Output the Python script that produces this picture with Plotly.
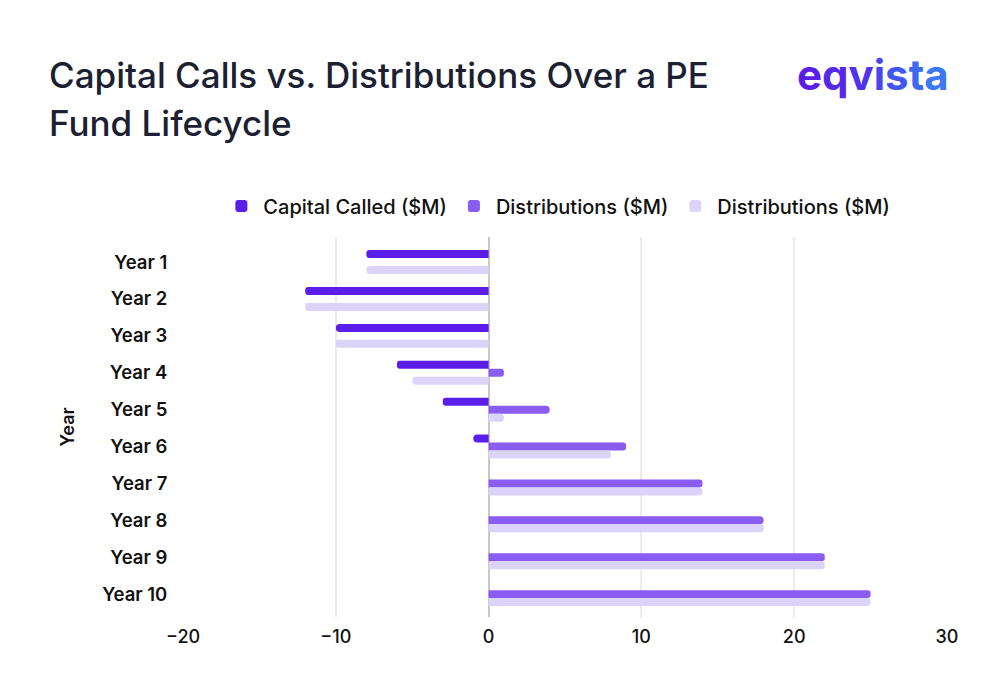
import plotly.graph_objects as go

years = ["Year 1", "Year 2", "Year 3", "Year 4", "Year 5",
         "Year 6", "Year 7", "Year 8", "Year 9", "Year 10"]
capital_called = [-8, -12, -10, -6, -3, -1, 0, 0, 0, 0]
distributions = [0, 0, 0, 1, 4, 9, 14, 18, 22, 25]
distributions_net = [-8, -12, -10, -5, 1, 8, 14, 18, 22, 25]

x_ticks = [-20, -10, 0, 10, 20, 30]
title_lines = ["Capital Calls vs. Distributions Over a PE", "Fund Lifecycle"]

colors = ["#5B1EE9", "#8A5CF1", "#DCD3FB"]
names = ["Capital Called ($M)", "Distributions ($M)", "Distributions ($M)"]
series = [capital_called, distributions, distributions_net]

FONT = "Inter"
fig = go.Figure()
for vals, name, col in zip(series, names, colors):
    fig.add_trace(go.Bar(
        y=years, x=vals, name=name, orientation="h",
        marker=dict(color=col, line=dict(width=0)),
    ))

fig.update_layout(
    width=1000, height=699,
    margin=dict(l=183, r=53, t=237, b=82),
    paper_bgcolor="white", plot_bgcolor="white",
    barmode="group", bargap=0.35, bargroupgap=0,
    barcornerradius=4,
    font=dict(family=FONT, color="#111111"),
    showlegend=True,
    legend=dict(orientation="h", x=0.49, xanchor="center", y=1.03, yanchor="bottom",
                font=dict(size=20, family=FONT, color="#111111", weight=500),
                itemwidth=34, traceorder="normal", itemsizing="constant"),
    xaxis=dict(range=[-20, 30], tickvals=x_ticks, showgrid=True, gridcolor="#ECECEC",
               gridwidth=1.5, zeroline=True, zerolinecolor="#C8C8C8", zerolinewidth=2,
               tickfont=dict(size=18, family=FONT, color="#111111", weight=500),
               ticks="outside", ticklen=3, tickcolor="rgba(0,0,0,0)",
               showline=False, fixedrange=True),
    yaxis=dict(categoryorder="array", categoryarray=years,
               range=[9.62, -0.68], showgrid=False,
               tickfont=dict(size=18.5, family=FONT, color="#111111", weight=600),
               ticks="outside", ticklen=11, tickcolor="rgba(0,0,0,0)",
               title=dict(text="Year", font=dict(size=18, family=FONT, color="#111111", weight=600),
                          standoff=22),
               showline=False),
)

for i, line in enumerate(title_lines):
    fig.add_annotation(
        text=line, xref="paper", yref="paper", x=-0.178, y=1.0,
        xanchor="left", yanchor="middle", yshift=237 - 75 - 48 * i,
        align="left", showarrow=False,
        font=dict(size=35, family=FONT, color="#1B2033", weight=500),
    )

logo = "eqvista"
logo_cols = ["#5B1EE9", "#5628EA", "#5033EC", "#4A45EE", "#4356F0", "#3C68F2", "#3A78F4"]
logo_html = "".join(f"<span style='color:{c}'>{ch}</span>" for ch, c in zip(logo, logo_cols))
fig.add_annotation(
    text=logo_html, xref="paper", yref="paper", x=1.0, y=1.0, xanchor="right", yanchor="top",
    xshift=4, yshift=190, showarrow=False,
    font=dict(size=42, family=FONT, weight=700),
)

fig.write_html("out.html")
